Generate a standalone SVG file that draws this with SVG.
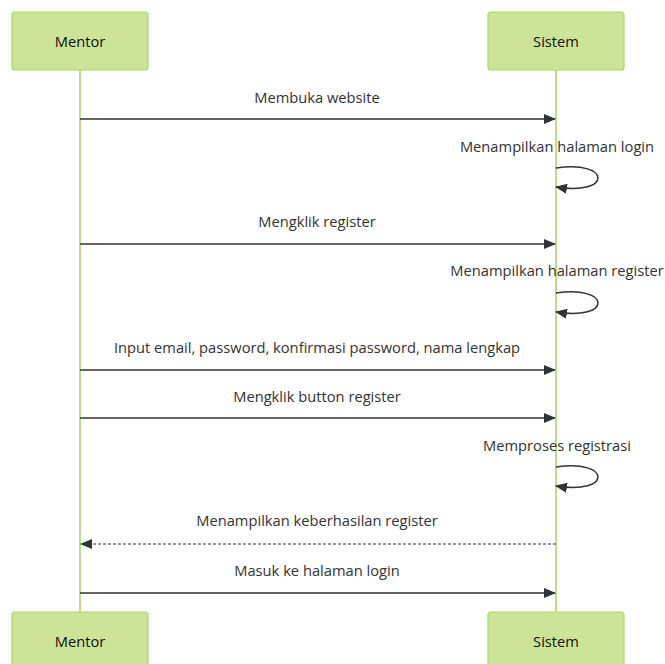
<svg xmlns="http://www.w3.org/2000/svg" width="665" height="664" viewBox="0 0 665 664">
  <style>
    .actor { fill: #cde498; stroke: #a9d86a; stroke-width: 1.2; }
    .actor-label { font-family: "Open Sans", "Noto Sans", sans-serif; font-size: 14.7px; fill: #111; text-anchor: middle; dominant-baseline: central; }
    .lifeline { stroke: #a3d65a; stroke-width: 1.5; }
    .msg { stroke: #333; stroke-width: 1.5; fill: none; }
    .dashed { stroke-dasharray: 3 2; stroke-width: 1; }
    .msg-label { font-family: "Open Sans", "Noto Sans", sans-serif; font-size: 14.7px; fill: #333; text-anchor: middle; dominant-baseline: central; }
  </style>
  <defs>
    <marker id="arrowhead" viewBox="0 0 12 10" refX="11" refY="5" markerWidth="12" markerHeight="10" markerUnits="userSpaceOnUse" orient="auto">
      <path d="M0,0 L12,5 L0,10 z" fill="#333"/>
    </marker>
  </defs>

  <rect width="665" height="664" fill="#fff"/>

  <!-- lifelines -->
  <g id="lifelines">
    <line class="lifeline" x1="80" y1="70" x2="80" y2="612"/>
    <line class="lifeline" x1="556" y1="70" x2="556" y2="612"/>
  </g>

  <!-- participants -->
  <g id="mentor-top">
    <rect class="actor" x="12" y="12" width="136" height="58" rx="3"/>
    <text class="actor-label" x="80" y="41">Mentor</text>
  </g>
  <g id="sistem-top">
    <rect class="actor" x="488" y="12" width="136" height="58" rx="3"/>
    <text class="actor-label" x="556" y="41">Sistem</text>
  </g>
  <g id="mentor-bottom">
    <rect class="actor" x="12" y="612" width="136" height="58" rx="3"/>
    <text class="actor-label" x="80" y="641">Mentor</text>
  </g>
  <g id="sistem-bottom">
    <rect class="actor" x="488" y="612" width="136" height="58" rx="3"/>
    <text class="actor-label" x="556" y="641">Sistem</text>
  </g>

  <!-- messages -->
  <g id="connectors">
    <line class="msg" x1="80" y1="119" x2="555" y2="119" marker-end="url(#arrowhead)"/>
    <path class="msg" d="M556,168 C612,160 612,196 556,187" marker-end="url(#arrowhead)"/>
    <line class="msg" x1="80" y1="244" x2="555" y2="244" marker-end="url(#arrowhead)"/>
    <path class="msg" d="M556,293 C612,285 612,321 556,312" marker-end="url(#arrowhead)"/>
    <line class="msg" x1="80" y1="370" x2="555" y2="370" marker-end="url(#arrowhead)"/>
    <line class="msg" x1="80" y1="418" x2="555" y2="418" marker-end="url(#arrowhead)"/>
    <path class="msg" d="M556,467 C612,459 612,495 556,486" marker-end="url(#arrowhead)"/>
    <line class="msg dashed" x1="556" y1="544" x2="81" y2="544" marker-end="url(#arrowhead)"/>
    <line class="msg" x1="80" y1="593" x2="555" y2="593" marker-end="url(#arrowhead)"/>
  </g>

  <!-- message labels -->
  <g id="labels">
    <text class="msg-label" x="317" y="97">Membuka website</text>
    <text class="msg-label" x="557" y="146">Menampilkan halaman login</text>
    <text class="msg-label" x="317" y="221">Mengklik register</text>
    <text class="msg-label" x="557" y="270">Menampilkan halaman register</text>
    <text class="msg-label" x="317" y="347">Input email, password, konfirmasi password, nama lengkap</text>
    <text class="msg-label" x="317" y="396">Mengklik button register</text>
    <text class="msg-label" x="557" y="445">Memproses registrasi</text>
    <text class="msg-label" x="317" y="520">Menampilkan keberhasilan register</text>
    <text class="msg-label" x="317" y="570">Masuk ke halaman login</text>
  </g>
</svg>
